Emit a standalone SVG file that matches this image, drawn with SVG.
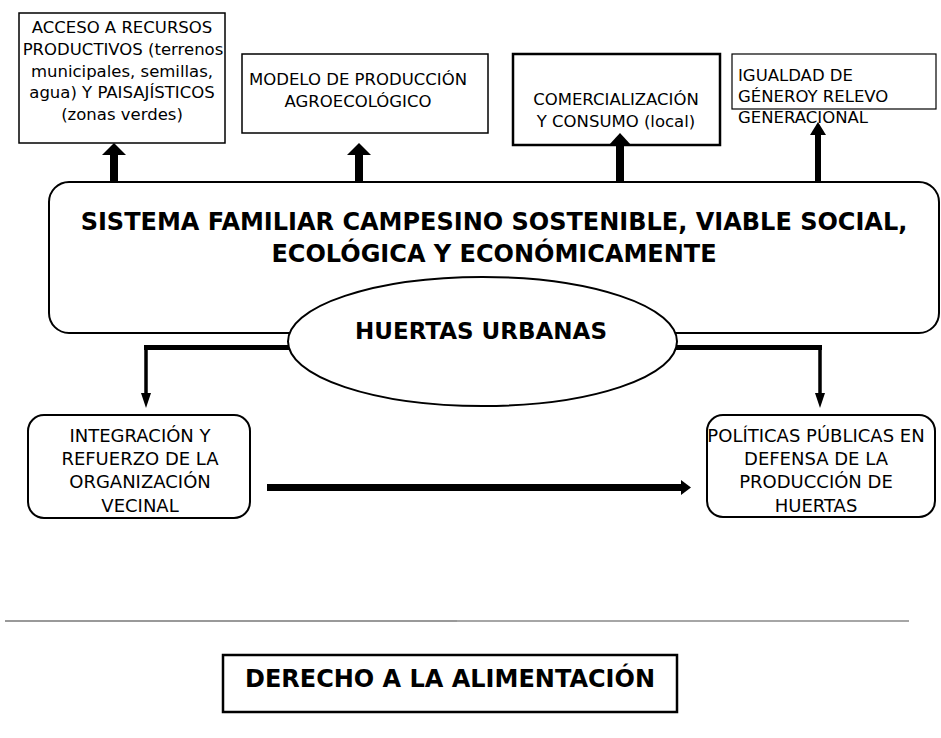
<svg xmlns="http://www.w3.org/2000/svg" width="941" height="738" viewBox="0 0 941 738">
<style>
  .box{fill:#fff;stroke:#000}
  .t{font-family:"DejaVu Sans","Verdana",sans-serif;fill:#000}
  .top{font-size:16.5px}
  .low{font-size:18px}
  .b{font-weight:bold;font-size:24px}
  .c{text-anchor:middle}
  .ln{fill:none;stroke:#000}
  .ah{fill:#000}
</style>
<rect width="941" height="738" fill="#fff"/>

<g id="sistema">
  <rect class="box" x="49" y="182" width="890" height="151" rx="20" ry="20" stroke-width="2"/>
  <text class="t b c" x="494" y="230">SISTEMA FAMILIAR CAMPESINO SOSTENIBLE, VIABLE SOCIAL,</text>
  <text class="t b c" x="494" y="262">ECOLÓGICA Y ECONÓMICAMENTE</text>
</g>

<g id="acceso">
  <rect class="box" x="19" y="13" width="206" height="130" stroke-width="1.5"/>
  <text class="t top c" x="122" y="33">ACCESO A RECURSOS</text>
  <text class="t top c" x="123" y="55">PRODUCTIVOS (terrenos</text>
  <text class="t top c" x="122" y="77">municipales, semillas,</text>
  <text class="t top c" x="122" y="98">agua) Y PAISAJÍSTICOS</text>
  <text class="t top c" x="122" y="120">(zonas verdes)</text>
</g>

<g id="modelo">
  <rect class="box" x="242" y="54" width="246" height="79" stroke-width="1.5"/>
  <text class="t top c" x="358" y="85">MODELO DE PRODUCCIÓN</text>
  <text class="t top c" x="358" y="107">AGROECOLÓGICO</text>
</g>

<g id="comercializacion">
  <rect class="box" x="513" y="54" width="207" height="91" stroke-width="2.5"/>
  <text class="t top c" x="616" y="105">COMERCIALIZACIÓN</text>
  <text class="t top c" x="616" y="127">Y CONSUMO (local)</text>
</g>

<g id="igualdad">
  <rect class="box" x="732" y="54" width="204" height="55" stroke-width="1.2"/>
  <text class="t top" x="738" y="81">IGUALDAD DE</text>
  <text class="t top" x="738" y="102">GÉNEROY RELEVO</text>
  <text class="t top" x="738" y="123">GENERACIONAL</text>
</g>

<g id="integracion">
  <rect class="box" x="28" y="415" width="222" height="103" rx="16" ry="16" stroke-width="2"/>
  <text class="t low c" x="140" y="442">INTEGRACIÓN Y</text>
  <text class="t low c" x="140" y="465">REFUERZO DE LA</text>
  <text class="t low c" x="140" y="488">ORGANIZACIÓN</text>
  <text class="t low c" x="140" y="512">VECINAL</text>
</g>

<g id="politicas">
  <rect class="box" x="707" y="415" width="228" height="102" rx="16" ry="16" stroke-width="2"/>
  <text class="t low c" x="816" y="442">POLÍTICAS PÚBLICAS EN</text>
  <text class="t low c" x="816" y="465">DEFENSA DE LA</text>
  <text class="t low c" x="816" y="488">PRODUCCIÓN DE</text>
  <text class="t low c" x="816" y="512">HUERTAS</text>
</g>

<g id="derecho">
  <rect class="box" x="223" y="655" width="454" height="57" stroke-width="2.5"/>
  <text class="t b c" x="450" y="687">DERECHO A LA ALIMENTACIÓN</text>
</g>

<g id="separador">
  <line x1="5" y1="621" x2="457" y2="621" stroke="#777" stroke-width="1.6"/>
  <line x1="457" y1="621" x2="909" y2="621" stroke="#888" stroke-width="1.3"/>
</g>

<g id="connectors">
  <!-- up arrows to top boxes -->
  <rect class="ah" x="110" y="153" width="8" height="29"/>
  <polygon class="ah" points="102,155 126,155 114,143"/>
  <rect class="ah" x="355" y="153" width="8" height="29"/>
  <polygon class="ah" points="347,155 371,155 359,143"/>
  <rect class="ah" x="616" y="144" width="8" height="38"/>
  <polygon class="ah" points="608.5,145.5 631.5,145.5 620,133"/>
  <rect class="ah" x="815" y="133" width="6" height="49"/>
  <polygon class="ah" points="810,135 826,135 818,122"/>
  <!-- from huertas down -->
  <path class="ln" d="M290,347.5 H144" stroke-width="5"/>
  <path class="ln" d="M146,345 V396" stroke-width="3.5"/>
  <polygon class="ah" points="141,393 151,393 146,408"/>
  <path class="ln" d="M675,347.5 H822" stroke-width="5"/>
  <path class="ln" d="M820,345 V396" stroke-width="3.5"/>
  <polygon class="ah" points="815,393 825,393 820,408"/>
  <!-- horizontal arrow -->
  <rect class="ah" x="267" y="484" width="415" height="7"/>
  <polygon class="ah" points="681,480 681,495 691,487.5"/>
</g>

<g id="huertas">
  <ellipse class="box" cx="482.5" cy="341.5" rx="194.5" ry="64.5" stroke-width="2"/>
  <text class="t b c" x="481" y="339" style="font-size:23px">HUERTAS URBANAS</text>
</g>
</svg>
